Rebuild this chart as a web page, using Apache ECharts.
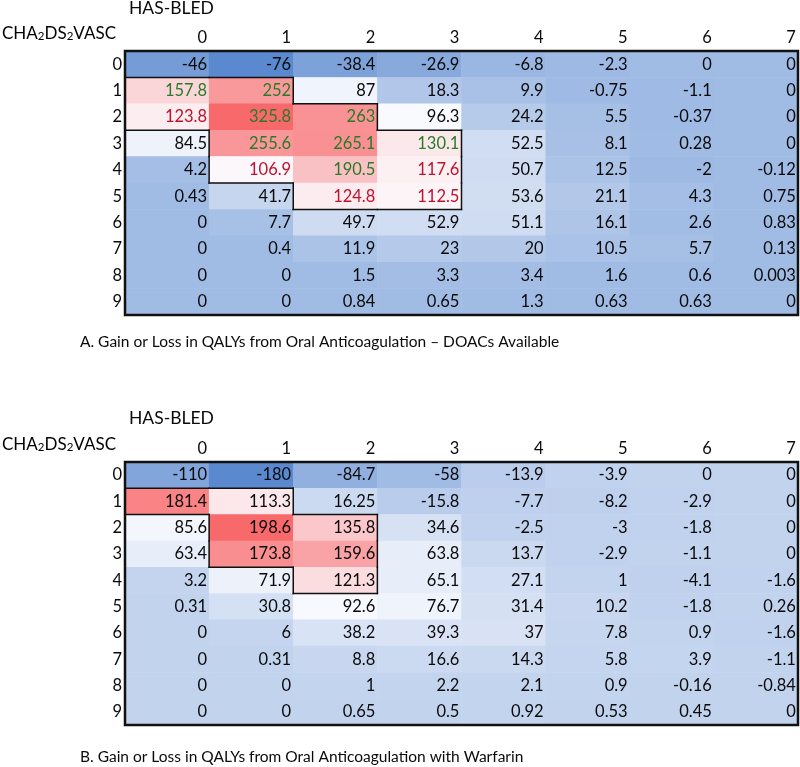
<!DOCTYPE html>
<html>
<head>
<meta charset="utf-8">
<script src="https://cdn.jsdelivr.net/npm/echarts@6/dist/echarts.min.js"></script>
<style>html,body{margin:0;padding:0;background:#fff;}#c{width:800px;height:767px;}</style>
</head>
<body>
<div id="c"></div>
<script>
// ---- data ----
const hasBled = ['0','1','2','3','4','5','6','7'];
const chads = ['0','1','2','3','4','5','6','7','8','9'];

const doacValues = [
  [-46, -76, -38.4, -26.9, -6.8, -2.3, 0, 0],
  [157.8, 252, 87, 18.3, 9.9, -0.75, -1.1, 0],
  [123.8, 325.8, 263, 96.3, 24.2, 5.5, -0.37, 0],
  [84.5, 255.6, 265.1, 130.1, 52.5, 8.1, 0.28, 0],
  [4.2, 106.9, 190.5, 117.6, 50.7, 12.5, -2, -0.12],
  [0.43, 41.7, 124.8, 112.5, 53.6, 21.1, 4.3, 0.75],
  [0, 7.7, 49.7, 52.9, 51.1, 16.1, 2.6, 0.83],
  [0, 0.4, 11.9, 23, 20, 10.5, 5.7, 0.13],
  [0, 0, 1.5, 3.3, 3.4, 1.6, 0.6, 0.003],
  [0, 0, 0.84, 0.65, 1.3, 0.63, 0.63, 0]
];
const warfarinValues = [
  [-110, -180, -84.7, -58, -13.9, -3.9, 0, 0],
  [181.4, 113.3, 16.25, -15.8, -7.7, -8.2, -2.9, 0],
  [85.6, 198.6, 135.8, 34.6, -2.5, -3, -1.8, 0],
  [63.4, 173.8, 159.6, 63.8, 13.7, -2.9, -1.1, 0],
  [3.2, 71.9, 121.3, 65.1, 27.1, 1, -4.1, -1.6],
  [0.31, 30.8, 92.6, 76.7, 31.4, 10.2, -1.8, 0.26],
  [0, 6, 38.2, 39.3, 37, 7.8, 0.9, -1.6],
  [0, 0.31, 8.8, 16.6, 14.3, 5.8, 3.9, -1.1],
  [0, 0, 1, 2.2, 2.1, 0.9, -0.16, -0.84],
  [0, 0, 0.65, 0.5, 0.92, 0.53, 0.45, 0]
];
// cells [row, col] of the outlined region
const doacOutlined = [[1,0],[1,1],[2,0],[2,1],[2,2],[3,1],[3,2],[3,3],[4,1],[4,2],[4,3],[5,2],[5,3]];
const warfarinOutlined = [[1,0],[1,1],[2,1],[2,2],[3,1],[3,2],[4,2]];
// highlighted text (DOAC table)
const doacGreenText = [[1,0],[1,1],[2,1],[2,2],[3,1],[3,2],[3,3],[4,2]];
const doacRedText = [[2,0],[4,1],[4,3],[5,2],[5,3]];
const captionA = 'A. Gain or Loss in QALYs from Oral Anticoagulation \u2013 DOACs Available';
const captionB = 'B. Gain or Loss in QALYs from Oral Anticoagulation with Warfarin';
const midpoint = 100;

// ---- helpers ----
const FONT = 'Lato, "Open Sans", sans-serif';
const TXT = '#0a0a0a';
const CELL_FS = 16.5;
const BLUE = [90, 137, 207], WHITE = [252, 252, 255], RED = [248, 105, 107];
function lerp(a, b, t) { return 'rgb(' + a.map((v, i) => Math.round(v + (b[i] - v) * t)).join(',') + ')'; }
function stops(min, mid, max, n) {
  const out = [];
  for (let i = 0; i < n; i++) {
    const v = min + (max - min) * i / (n - 1);
    out.push(v <= mid ? lerp(BLUE, WHITE, (v - min) / (mid - min)) : lerp(WHITE, RED, (v - mid) / (max - mid)));
  }
  return out;
}
function toData(rows) {
  const d = [];
  rows.forEach((r, yi) => r.forEach((v, xi) => d.push([xi, yi, v])));
  return d;
}
function has(list, r, c) { return list.some(p => p[0] === r && p[1] === c); }
function flat(rows) { return rows.reduce((a, r) => a.concat(r), []); }

const grids = [
  { left: 125, top: 51, width: 673, height: 264 },
  { left: 125, top: 462, width: 673, height: 263 }
];

function xAxis(gi) {
  return {
    type: 'category', data: hasBled, gridIndex: gi, position: 'top',
    axisLine: { show: false }, axisTick: { show: false }, splitLine: { show: false },
    axisLabel: {
      margin: 5, fontFamily: FONT, fontSize: CELL_FS, color: TXT,
      formatter: v => '{a|' + v + '}',
      rich: { a: { width: 80, align: 'right', fontFamily: FONT, fontSize: CELL_FS, color: TXT } }
    }
  };
}
function yAxis(gi) {
  return {
    type: 'category', data: chads, gridIndex: gi, inverse: true,
    axisLine: { show: false }, axisTick: { show: false }, splitLine: { show: false },
    axisLabel: { margin: 3, fontFamily: FONT, fontSize: CELL_FS, color: TXT }
  };
}
const rich = {
  a: { width: 80, align: 'right', fontFamily: FONT, fontSize: CELL_FS, color: TXT },
  g: { width: 80, align: 'right', fontFamily: FONT, fontSize: CELL_FS, color: '#2b7a28' },
  r: { width: 80, align: 'right', fontFamily: FONT, fontSize: CELL_FS, color: '#c0102a' }
};
function series(gi, rows, green, red) {
  return {
    type: 'heatmap', xAxisIndex: gi, yAxisIndex: gi, data: toData(rows),
    itemStyle: { borderWidth: 0 },
    emphasis: { disabled: true },
    label: {
      show: true,
      formatter: p => {
        const c = p.value[0], r = p.value[1];
        const k = has(green, r, c) ? 'g' : (has(red, r, c) ? 'r' : 'a');
        return '{' + k + '|' + p.value[2] + '}';
      },
      rich: rich
    }
  };
}
const flatA = flat(doacValues), flatB = flat(warfarinValues);
const minA = Math.min(...flatA), maxA = Math.max(...flatA);
const minB = Math.min(...flatB), maxB = Math.max(...flatB);

const chart = echarts.init(document.getElementById('c'), null, { renderer: 'canvas' });
chart.setOption({
  animation: false,
  backgroundColor: '#fff',
  grid: grids,
  xAxis: [xAxis(0), xAxis(1)],
  yAxis: [yAxis(0), yAxis(1)],
  visualMap: [
    { type: 'continuous', show: false, seriesIndex: 0, dimension: 2, min: minA, max: maxA, inRange: { color: stops(minA, midpoint, maxA, 101) } },
    { type: 'continuous', show: false, seriesIndex: 1, dimension: 2, min: minB, max: maxB, inRange: { color: stops(minB, midpoint, maxB, 101) } }
  ],
  series: [series(0, doacValues, doacGreenText, doacRedText), series(1, warfarinValues, [], [])]
});

// ---- decorations computed from the axes ----
const graphics = [];
function subTitle(x, y) {
  return {
    type: 'text', left: x, top: y, silent: true,
    style: {
      text: '{n|CHA}{s|2}{n|DS}{s|2}{n|VASC}',
      rich: {
        n: { fontFamily: FONT, fontSize: 17, color: TXT, lineHeight: 22, verticalAlign: 'bottom' },
        s: { fontFamily: FONT, fontSize: 11.5, color: TXT, lineHeight: 12, verticalAlign: 'bottom' }
      }
    }
  };
}
function plainText(text, x, y, size) {
  return { type: 'text', left: x, top: y, silent: true, style: { text: text, fontFamily: FONT, fontSize: size, fill: TXT } };
}
function cellRect(gi, c, r) {
  const p = chart.convertToPixel({ gridIndex: gi }, [c, r]);
  const p2 = chart.convertToPixel({ gridIndex: gi }, [c + 1 < hasBled.length ? c + 1 : c - 1, r + 1 < chads.length ? r + 1 : r - 1]);
  const w = Math.abs(p2[0] - p[0]), h = Math.abs(p2[1] - p[1]);
  return { x0: p[0] - w / 2, x1: p[0] + w / 2, y0: p[1] - h / 2, y1: p[1] + h / 2 };
}
function outline(gi, cells) {
  cells.forEach(([r, c]) => {
    const b = cellRect(gi, c, r);
    const segs = [];
    if (!has(cells, r - 1, c)) segs.push([b.x0, b.y0, b.x1, b.y0]);
    if (!has(cells, r + 1, c)) segs.push([b.x0, b.y1, b.x1, b.y1]);
    if (!has(cells, r, c - 1)) segs.push([b.x0, b.y0, b.x0, b.y1]);
    if (!has(cells, r, c + 1)) segs.push([b.x1, b.y0, b.x1, b.y1]);
    segs.forEach(s => graphics.push({
      type: 'line', silent: true, z: 100,
      shape: { x1: s[0], y1: s[1], x2: s[2], y2: s[3] },
      style: { stroke: '#111', lineWidth: 1.5, lineCap: 'square' }
    }));
  });
}
function frame(gi) {
  const a = cellRect(gi, 0, 0), b = cellRect(gi, hasBled.length - 1, chads.length - 1);
  graphics.push({
    type: 'rect', silent: true, z: 101,
    shape: { x: a.x0, y: a.y0, width: b.x1 - a.x0, height: b.y1 - a.y0 },
    style: { fill: 'none', stroke: '#111', lineWidth: 2.5 }
  });
}
outline(0, doacOutlined);
outline(1, warfarinOutlined);
frame(0); frame(1);
graphics.push(plainText('HAS-BLED', 129, -1, 17.5));
graphics.push(plainText('HAS-BLED', 129, 409, 17.5));
graphics.push(subTitle(2, 25));
graphics.push(subTitle(2, 436));
graphics.push(plainText(captionA, 80, 334, 15.5));
graphics.push(plainText(captionB, 80, 749, 15.5));
chart.setOption({ graphic: graphics });
</script>
</body>
</html>
